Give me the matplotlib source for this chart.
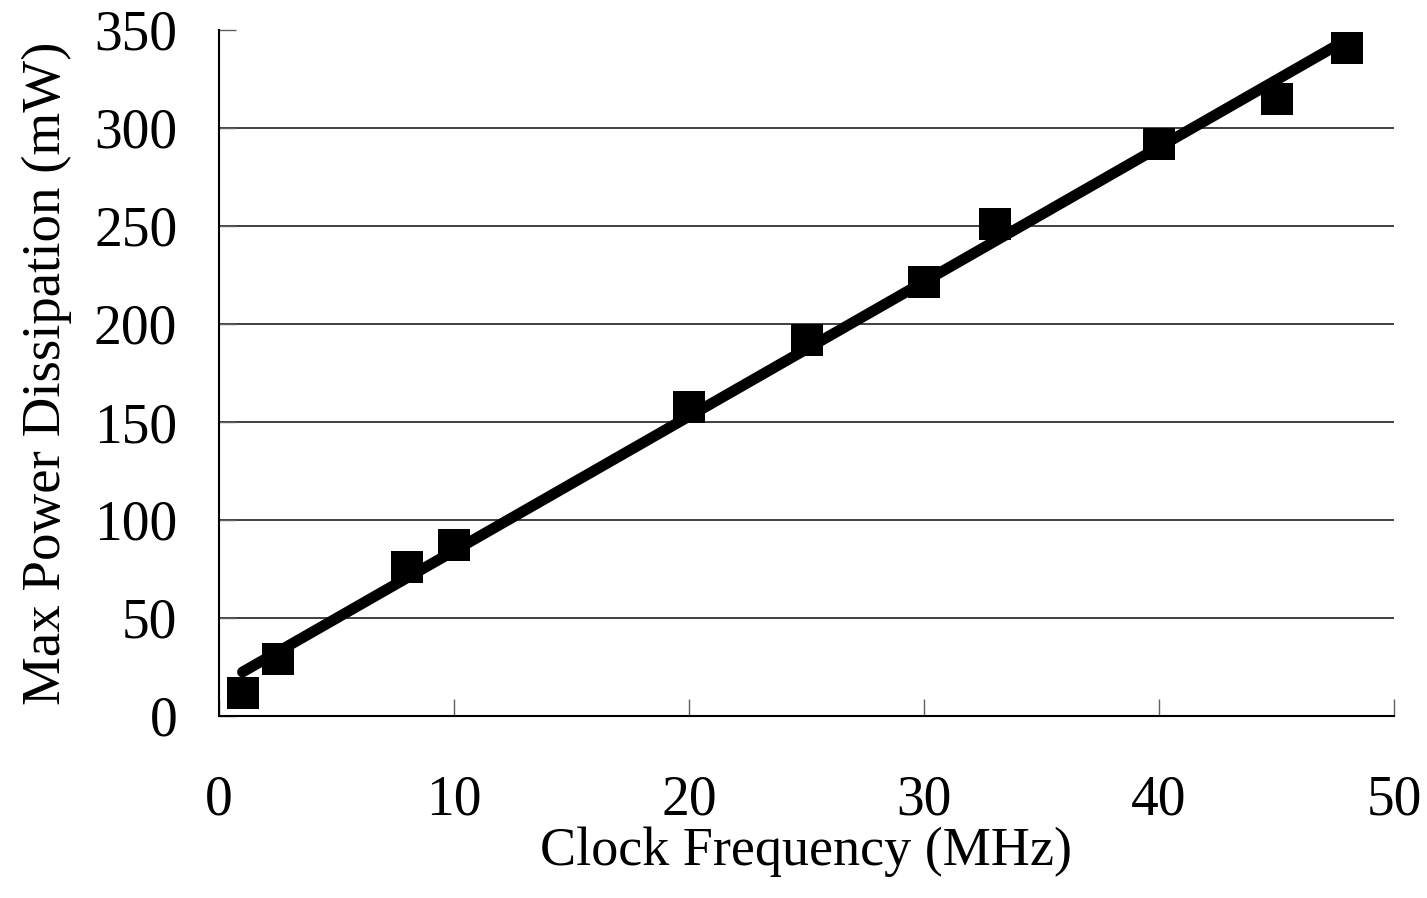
import numpy as np
import matplotlib
matplotlib.use("Agg")
import matplotlib.pyplot as plt

# Data
freq_mhz = [1, 2.5, 8, 10, 20, 25, 30, 33, 40, 45, 48]
power_mw = [11.5, 29, 76, 87, 157.5, 192, 221.5, 251, 292, 315, 341]

x_ticks = [0, 10, 20, 30, 40, 50]
y_ticks = [0, 50, 100, 150, 200, 250, 300, 350]

plt.rcParams['font.family'] = ['Liberation Serif', 'DejaVu Serif']

fig = plt.figure(figsize=(14.27, 8.98), dpi=100)
ax = fig.add_axes([219/1427, 1 - 716/898, (1394-219)/1427, (716-30)/898])

# linear trendline fitted to the data
coef = np.polyfit(freq_mhz, power_mw, 1)
xf = np.array([min(freq_mhz), max(freq_mhz)])
ax.plot(xf, np.polyval(coef, xf), color='black', lw=7.8, solid_capstyle='round', zorder=3)

ax.plot(freq_mhz, power_mw, linestyle='none', marker='s', markersize=23.5,
        markerfacecolor='black', markeredgewidth=0, color='black', zorder=4, clip_on=False)

ax.set_xlim(0, 50)
ax.set_ylim(0, 350)
ax.set_xticks(x_ticks)
ax.set_yticks(y_ticks)
ax.set_xticklabels([str(v) for v in x_ticks])
ax.set_yticklabels([str(v) for v in y_ticks])

ax.yaxis.grid(True, color='#303030', lw=1.3)
ax.set_axisbelow(True)
gls = ax.get_ygridlines()
gls[0].set_visible(False)
gls[-1].set_visible(False)

for s in ['top', 'right']:
    ax.spines[s].set_visible(False)
for s in ['left', 'bottom']:
    ax.spines[s].set_linewidth(1.5)
    ax.spines[s].set_color('black')

ax.tick_params(axis='x', direction='in', length=12, width=1, color='#606060',
               labelsize=40, pad=42)
ax.tick_params(axis='y', direction='in', length=12, width=1, color='#606060',
               labelsize=40, pad=30)

ax.set_xlabel('Clock Frequency (MHz)', fontsize=39, labelpad=0)
ax.set_ylabel('Max Power Dissipation (mW)', fontsize=39.5, labelpad=16)

fig.savefig('out.png', dpi=100, facecolor='white')
